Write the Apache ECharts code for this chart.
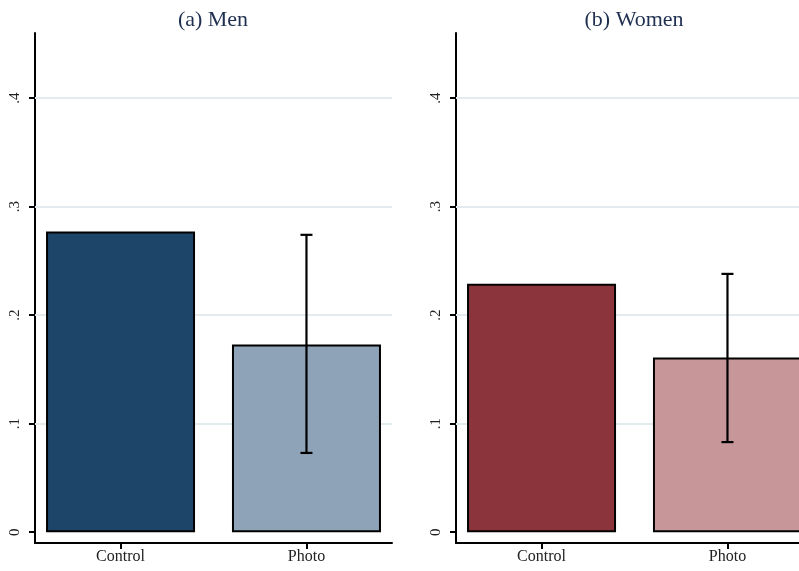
<!DOCTYPE html>
<html>
<head>
<meta charset="utf-8">
<script src="https://cdn.jsdelivr.net/npm/echarts@6/dist/echarts.min.js"></script>
<style>
  html, body { margin: 0; padding: 0; background: #ffffff; }
  #chart { width: 799px; height: 571px; }
</style>
</head>
<body>
<div id="chart"></div>
<script>
// Share of respondents by treatment arm, split by gender
const categories = ['Control', 'Photo'];
const menMeans = [0.277, 0.173];
const womenMeans = [0.229, 0.161];
// 95% confidence interval for the Photo group [low, high]
const menPhotoCI = [0.073, 0.274];
const womenPhotoCI = [0.083, 0.238];
const yTicks = [0, 0.1, 0.2, 0.3, 0.4];
const gridValues = [0.1, 0.2, 0.3, 0.4];
const panelTitles = ['(a) Men', '(b) Women'];
const menColors = ['#1d4469', '#8ea3b7'];
const womenColors = ['#8b343b', '#c69698'];

const serif = '"Liberation Serif", "DejaVu Serif", serif';

function tickLabel(v) {
  if (Math.abs(v) < 1e-9) return '0';
  return '.' + Math.round(v * 10);
}

function makeX(idx) {
  return {
    gridIndex: idx,
    type: 'value',
    min: -0.46,
    max: 1.46,
    axisLine: { show: true, onZero: false, lineStyle: { color: '#000', width: 2 } },
    axisTick: { show: true, customValues: [0, 1], length: 6, lineStyle: { color: '#000', width: 2 } },
    axisLabel: {
      customValues: [0, 1],
      formatter: v => categories[Math.round(v)],
      fontFamily: serif, fontSize: 16, color: '#222', margin: 6
    },
    splitLine: { show: false }
  };
}

function makeY(idx) {
  return {
    gridIndex: idx,
    type: 'value',
    min: -0.01,
    max: 0.46,
    axisLine: { show: true, onZero: false, lineStyle: { color: '#000', width: 2 } },
    axisTick: { show: true, customValues: yTicks, length: 6, lineStyle: { color: '#000', width: 2 } },
    axisLabel: {
      customValues: yTicks,
      formatter: tickLabel,
      rotate: 90,
      fontFamily: serif, fontSize: 15, color: '#222', margin: 12
    },
    splitLine: { show: false }
  };
}

// Horizontal reference lines behind the bars
function gridLineSeries(idx) {
  return {
    type: 'line',
    xAxisIndex: idx,
    yAxisIndex: idx,
    z: 1,
    data: [],
    markLine: {
      silent: true,
      z: 1,
      symbol: 'none',
      label: { show: false },
      lineStyle: { color: '#e4ebee', width: 2, type: 'solid' },
      data: gridValues.map(v => ({ yAxis: v }))
    }
  };
}

function barSeries(idx, means, colors) {
  return {
    type: 'bar',
    xAxisIndex: idx,
    yAxisIndex: idx,
    barWidth: 149,
    z: 10,
    data: means.map((v, i) => ({
      value: [i, v],
      itemStyle: { color: colors[i], borderColor: '#000', borderWidth: 2 }
    }))
  };
}

function errorSeries(idx, ci) {
  return {
    type: 'custom',
    xAxisIndex: idx,
    yAxisIndex: idx,
    z: 12,
    data: [[1, ci[0], ci[1]]],
    renderItem: function (params, api) {
      const x = api.value(0);
      const lo = api.coord([x, api.value(1)]);
      const hi = api.coord([x, api.value(2)]);
      const cap = 6;
      const style = { stroke: '#000', lineWidth: 2.2 };
      return {
        type: 'group',
        children: [
          { type: 'line', shape: { x1: lo[0], y1: lo[1], x2: hi[0], y2: hi[1] }, style },
          { type: 'line', shape: { x1: hi[0] - cap, y1: hi[1], x2: hi[0] + cap, y2: hi[1] }, style },
          { type: 'line', shape: { x1: lo[0] - cap, y1: lo[1], x2: lo[0] + cap, y2: lo[1] }, style }
        ]
      };
    }
  };
}

const chart = echarts.init(document.getElementById('chart'), null, { renderer: 'canvas' });
chart.setOption({
  animation: false,
  backgroundColor: '#ffffff',
  title: [
    { text: panelTitles[0], left: 208, top: 4, textAlign: 'center',
      textStyle: { fontFamily: serif, fontSize: 22, fontWeight: 'normal', color: '#1f2f4f' } },
    { text: panelTitles[1], left: 629, top: 4, textAlign: 'center',
      textStyle: { fontFamily: serif, fontSize: 22, fontWeight: 'normal', color: '#1f2f4f' } }
  ],
  grid: [
    { left: 35, top: 33, width: 357, height: 510, outerBoundsMode: 'none', containLabel: false },
    { left: 456, top: 33, width: 357, height: 510, outerBoundsMode: 'none', containLabel: false }
  ],
  xAxis: [makeX(0), makeX(1)],
  yAxis: [makeY(0), makeY(1)],
  series: [
    gridLineSeries(0),
    barSeries(0, menMeans, menColors),
    errorSeries(0, menPhotoCI),
    gridLineSeries(1),
    barSeries(1, womenMeans, womenColors),
    errorSeries(1, womenPhotoCI)
  ]
});
</script>
</body>
</html>
